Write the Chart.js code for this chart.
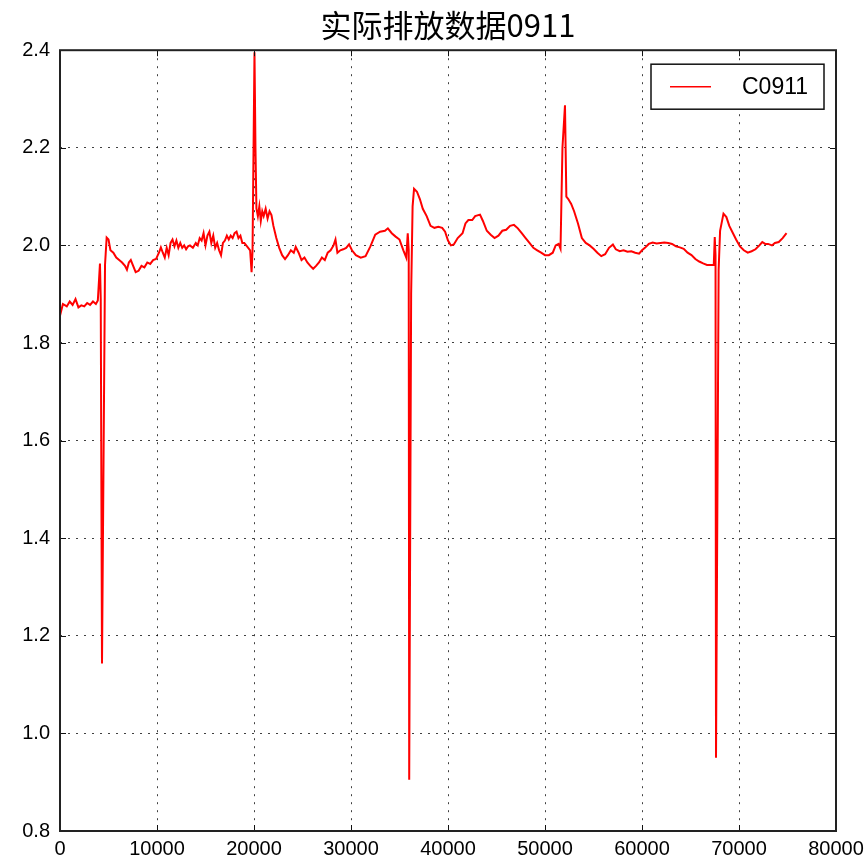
<!DOCTYPE html>
<html>
<head>
<meta charset="utf-8">
<script src="https://cdn.jsdelivr.net/npm/chart.js@4"></script>
<style>
    html, body { margin: 0; padding: 0; background: #fff; }
    #wrap { width: 867px; height: 858px; }
</style>
</head>
<body>
<div id="wrap"><canvas id="grafico"></canvas></div>
<script>
const titulo = '实际排放数据0911';
const serieNombre = 'C0911';

const xTicks = [0, 10000, 20000, 30000, 40000, 50000, 60000, 70000, 80000];
const yTicks = [0.8, 1.0, 1.2, 1.4, 1.6, 1.8, 2.0, 2.2, 2.4];

// muestras
const xValores = [
    0, 300, 700, 1000, 1300, 1600, 1900, 2200, 2500, 2800, 3100, 3400, 3700, 3900,
    4120, 4200, 4330, 4640, 4810,
    5000, 5200, 5500, 5800, 6100, 6400, 6700, 6900, 7100, 7300, 7500, 7800, 8100, 8400, 8700,
    9000, 9300, 9600, 9900, 10200, 10400, 10600, 10800, 11000, 11200, 11400, 11600, 11800,
    12000, 12200, 12400, 12600, 12800, 13000, 13200, 13400, 13700, 14000, 14200, 14400, 14600,
    14800, 15000, 15200, 15400, 15600, 15800, 16000, 16200, 16400, 16600, 16800, 17000, 17200,
    17400, 17600, 17800, 18000, 18200, 18400, 18600, 18800, 19000, 19200, 19400, 19600, 19750,
    19850, 20050, 20150, 20250,
    20400, 20550, 20700, 20850, 21000, 21200, 21400, 21600, 21800, 22000, 22300, 22600, 22900,
    23200, 23500, 23800, 24100, 24300, 24600, 24900, 25200, 25500, 25800, 26100, 26400, 26700,
    27000, 27300, 27600, 27900, 28200, 28400, 28600, 28900, 29200, 29500, 29800, 30100, 30500,
    31000, 31500, 32000, 32500, 33000, 33500, 33800, 34200, 34600, 35000, 35400, 35700,
    35850, 35950, 36000, 36200, 36350, 36500, 36800, 37100, 37400, 37800, 38200, 38600, 39000,
    39400, 39700, 40000, 40300, 40600, 41000, 41500, 41800, 42100, 42500, 42800, 43300, 43600,
    44000, 44400, 44800, 45200, 45600, 46000, 46400, 46800, 47200, 47600, 48000, 48400, 48800,
    49200, 49600, 50000, 50400, 50800, 51100, 51400, 51600, 51800, 52060, 52200, 52400, 52700,
    53000, 53400, 53800, 54200, 54600, 55000, 55400, 55800, 56200, 56600, 57000, 57300, 57700,
    58100, 58500, 58900, 59300, 59700, 60000, 60300, 60700, 61100, 61500, 61900, 62300, 62700,
    63100, 63500, 63900, 64300, 64700, 65100, 65500, 65900, 66300, 66700, 67100, 67400,
    67500, 67580, 67630, 67900, 68050, 68400, 68700, 69000, 69300, 69700, 70100, 70500, 70900,
    71300, 71700, 72100, 72400, 72700, 73000, 73400, 73700, 74100, 74500, 74900
];
const yValores = [
    1.856, 1.880, 1.875, 1.885, 1.878, 1.890, 1.873, 1.877, 1.875, 1.882, 1.878, 1.885, 1.880, 1.887,
    1.963, 1.890, 1.143, 1.960, 2.016,
    2.012, 1.990, 1.985, 1.975, 1.970, 1.965, 1.958, 1.950, 1.965, 1.970, 1.960, 1.945, 1.948, 1.958, 1.955,
    1.965, 1.962, 1.970, 1.972, 1.985, 1.996, 1.985, 1.975, 1.995, 1.980, 2.005, 2.012, 1.998,
    2.010, 1.995, 2.005, 1.995, 2.000, 1.992, 1.998, 2.000, 1.995, 2.005, 2.000, 2.015, 2.010,
    2.025, 2.000, 2.020, 2.028, 2.005, 2.020, 1.995, 2.005, 1.990, 1.980, 2.005, 2.010, 2.020,
    2.012, 2.020, 2.015, 2.025, 2.028, 2.015, 2.020, 2.005, 2.005, 2.000, 1.995, 1.990, 1.945,
    1.990, 2.396, 2.200, 2.076,
    2.060, 2.080, 2.050, 2.070, 2.060, 2.075, 2.055, 2.070, 2.062, 2.040, 2.015, 1.995, 1.980,
    1.972, 1.980, 1.990, 1.985, 1.997, 1.985, 1.970, 1.975, 1.965, 1.958, 1.952, 1.958, 1.965,
    1.975, 1.970, 1.985, 1.990, 2.000, 2.012, 1.985, 1.990, 1.992, 1.995, 2.002, 1.990, 1.980,
    1.975, 1.978, 1.998, 2.022, 2.028, 2.030, 2.035, 2.025, 2.018, 2.012, 1.990, 1.975,
    2.025, 1.990, 0.905, 1.900, 2.080, 2.116, 2.110, 2.095, 2.075, 2.060, 2.040, 2.036, 2.038,
    2.036, 2.028, 2.010, 2.000, 2.002, 2.015, 2.025, 2.045, 2.052, 2.052, 2.060, 2.063, 2.050,
    2.030, 2.022, 2.015, 2.020, 2.030, 2.032, 2.040, 2.042, 2.035, 2.025, 2.015, 2.005, 1.995,
    1.990, 1.985, 1.980, 1.980, 1.985, 2.000, 2.003, 1.993, 2.200, 2.287, 2.100, 2.095, 2.085,
    2.070, 2.045, 2.015, 2.005, 2.000, 1.993, 1.985, 1.978, 1.982, 1.995, 2.002, 1.992, 1.988,
    1.990, 1.987, 1.988, 1.985, 1.983, 1.990, 1.995, 2.003, 2.006, 2.004, 2.005, 2.006, 2.005,
    2.003, 1.998, 1.996, 1.993, 1.985, 1.980, 1.972, 1.967, 1.963, 1.960, 1.960, 1.960,
    2.017, 1.980, 0.950, 1.950, 2.030, 2.065, 2.058, 2.040, 2.028, 2.012, 1.998, 1.990, 1.985,
    1.988, 1.992, 2.000, 2.007, 2.003, 2.003, 2.000, 2.005, 2.007, 2.015, 2.025
];

const fuenteNum = '"Liberation Sans", Arial, sans-serif';

// marco negro, ticks hacia adentro y leyenda con borde
const marcoPlugin = {
    id: 'marco',
    afterDatasetsDraw(chart) {
        const { ctx, chartArea: a, scales } = chart;
        ctx.save();
        ctx.strokeStyle = '#111';
        ctx.lineWidth = 1;
        const largo = 6;
        ctx.beginPath();
        xTicks.forEach(v => {
            const px = Math.round(scales.x.getPixelForValue(v)) + 0.5;
            ctx.moveTo(px, a.bottom); ctx.lineTo(px, a.bottom - largo);
            ctx.moveTo(px, a.top); ctx.lineTo(px, a.top + largo);
        });
        yTicks.forEach(v => {
            const py = Math.round(scales.y.getPixelForValue(v)) + 0.5;
            ctx.moveTo(a.left, py); ctx.lineTo(a.left + largo, py);
            ctx.moveTo(a.right, py); ctx.lineTo(a.right - largo, py);
        });
        ctx.stroke();

        ctx.lineWidth = 2;
        ctx.strokeStyle = '#222';
        ctx.strokeRect(a.left, a.top, a.right - a.left, a.bottom - a.top);

        // leyenda
        const ds = chart.data.datasets[0];
        const bx = a.right - 185, by = a.top + 14, bw = 173, bh = 45;
        ctx.fillStyle = '#fff';
        ctx.fillRect(bx, by, bw, bh);
        ctx.lineWidth = 1.5;
        ctx.strokeStyle = '#111';
        ctx.strokeRect(bx, by, bw, bh);
        ctx.strokeStyle = ds.borderColor;
        ctx.lineWidth = 1.5;
        ctx.beginPath();
        ctx.moveTo(bx + 19, by + bh / 2);
        ctx.lineTo(bx + 60, by + bh / 2);
        ctx.stroke();
        ctx.fillStyle = '#000';
        ctx.font = '23px ' + fuenteNum;
        ctx.textBaseline = 'middle';
        ctx.textAlign = 'left';
        ctx.fillText(ds.label, bx + 91, by + bh / 2 + 1);
        ctx.restore();
    }
};

function renderizarGrafico() {
    const ctx = document.getElementById('grafico').getContext('2d');
    const puntos = xValores.map((x, i) => ({ x: x, y: yValores[i] }));

    new Chart(ctx, {
        type: 'line',
        data: {
            datasets: [{
                label: serieNombre,
                data: puntos,
                borderColor: '#ff0000',
                borderWidth: 2,
                pointRadius: 0,
                tension: 0,
                fill: false
            }]
        },
        options: {
            responsive: true,
            maintainAspectRatio: false,
            animation: false,
            layout: { padding: { left: 0, right: 31, top: 0, bottom: 0 } },
            plugins: {
                legend: { display: false },
                tooltip: { enabled: false },
                title: {
                    display: true,
                    text: titulo,
                    fullSize: false,
                    color: '#000',
                    font: { family: '"Noto Sans CJK SC", sans-serif', size: 31, weight: 'normal', lineHeight: 1.2 },
                    padding: { top: 7, bottom: 6 }
                }
            },
            scales: {
                x: {
                    type: 'linear',
                    min: 0,
                    max: 80000,
                    afterBuildTicks: s => { s.ticks = xTicks.map(v => ({ value: v })); },
                    afterFit: s => { s.height = 27; s.paddingRight = 0; s.paddingLeft = 0; },
                    grid: { color: 'rgba(0,0,0,0.75)', lineWidth: 1, drawTicks: false },
                    border: { display: false, dash: [2, 6] },
                    ticks: {
                        color: '#000',
                        padding: 6,
                        maxRotation: 0,
                        font: { family: fuenteNum, size: 20 },
                        callback: v => String(v)
                    }
                },
                y: {
                    min: 0.8,
                    max: 2.4,
                    afterBuildTicks: s => { s.ticks = yTicks.map(v => ({ value: v })); },
                    afterFit: s => { s.width = 60; },
                    grid: { color: 'rgba(0,0,0,0.75)', lineWidth: 1, drawTicks: false },
                    border: { display: false, dash: [2, 6] },
                    ticks: {
                        color: '#000',
                        padding: 10,
                        font: { family: fuenteNum, size: 20 },
                        callback: v => v.toFixed(1)
                    }
                }
            }
        },
        plugins: [marcoPlugin]
    });
}

renderizarGrafico();
</script>
</body>
</html>
